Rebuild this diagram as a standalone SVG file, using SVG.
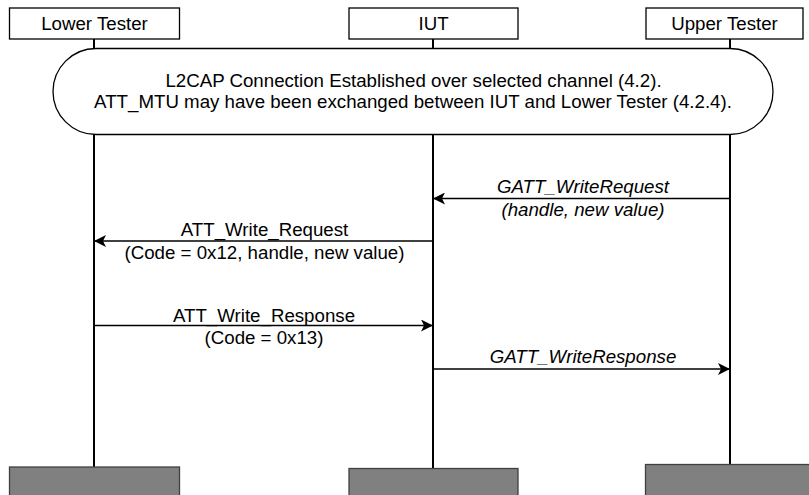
<svg xmlns="http://www.w3.org/2000/svg" width="809" height="495" viewBox="0 0 809 495">
<defs>
<style>
text{font-family:"Liberation Sans",Arial,sans-serif;font-size:18.7px;fill:#000;text-anchor:middle}
.it{font-style:italic}
.box{fill:#fff;stroke:#000;stroke-width:1.3}
.end{fill:#808080;stroke:#404040;stroke-width:1.3}
.life{stroke:#000;stroke-width:2;fill:none}
.msg{stroke:#000;stroke-width:1.5;fill:none}
</style>
<marker id="ah" viewBox="0 0 12 12" refX="12" refY="6" markerWidth="12" markerHeight="12" markerUnits="userSpaceOnUse" orient="auto">
<path d="M0,0 L12,6 L0,12 L3,6 Z" fill="#000"/>
</marker>
</defs>
<g id="lifelines">
<line class="life" x1="94" y1="39" x2="94" y2="467"/>
<line class="life" x1="433" y1="39" x2="433" y2="468"/>
<line class="life" x1="730" y1="39" x2="730" y2="465"/>
</g>
<g id="lower-tester">
<rect class="box" x="9.5" y="8" width="170" height="31"/>
<text x="94.5" y="29.5">Lower Tester</text>
<rect class="end" x="9.5" y="467" width="170" height="30"/>
</g>
<g id="iut">
<rect class="box" x="349" y="8" width="169" height="31"/>
<text x="433.5" y="29.5">IUT</text>
<rect class="end" x="349" y="468.5" width="169" height="30"/>
</g>
<g id="upper-tester">
<rect class="box" x="646" y="8" width="157" height="31"/>
<text x="724.5" y="29.5">Upper Tester</text>
<rect class="end" x="645.5" y="464.5" width="170" height="34"/>
</g>
<g id="precondition">
<rect class="box" x="53" y="48.5" width="720" height="86" rx="43" ry="43"/>
<text x="413.5" y="86.5">L2CAP Connection Established over selected channel (4.2).</text>
<text x="413" y="108">ATT_MTU may have been exchanged between IUT and Lower Tester (4.2.4).</text>
</g>
<g id="connectors">
<line class="msg" x1="730" y1="198.5" x2="433" y2="198.5" marker-end="url(#ah)"/>
<text class="it" x="583" y="193">GATT_WriteRequest</text>
<text class="it" x="583" y="215.5">(handle, new value)</text>
<line class="msg" x1="433" y1="241" x2="94" y2="241" marker-end="url(#ah)"/>
<text x="264.5" y="236">ATT_Write_Request</text>
<text x="264.5" y="258.5">(Code = 0x12, handle, new value)</text>
<line class="msg" x1="94" y1="325.5" x2="433" y2="325.5" marker-end="url(#ah)"/>
<text x="264" y="322">ATT_Write_Response</text>
<text x="264" y="343.5">(Code = 0x13)</text>
<line class="msg" x1="433" y1="369" x2="730" y2="369" marker-end="url(#ah)"/>
<text class="it" x="583" y="363">GATT_WriteResponse</text>
</g>
</svg>
